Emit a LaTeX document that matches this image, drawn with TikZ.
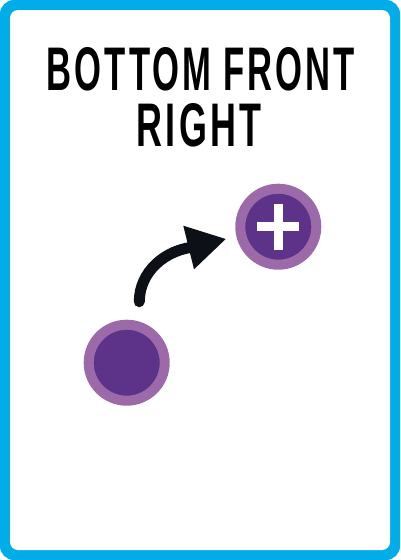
\documentclass[tikz,border=0pt]{standalone}
\usepackage{fontspec}
\usetikzlibrary{calc}
\newfontfamily\titlefont{Liberation Sans}[FakeStretch=0.7, LetterSpace=6]
\usepackage{graphicx}
\definecolor{cardblue}{HTML}{00ADE8}
\definecolor{ringpurple}{HTML}{9D6AA9}
\definecolor{corepurple}{HTML}{5C3389}
\definecolor{arrowblack}{HTML}{0D1117}
\begin{document}
\begin{tikzpicture}[x=1pt,y=-1pt,
  token/.style={circle, fill=corepurple, draw=ringpurple, line width=10pt, minimum size=76pt, inner sep=0pt},
  titletext/.style={anchor=base, inner sep=0pt, text=black}]
\useasboundingbox (0,0) rectangle (400,560);
% card
\fill[cardblue, rounded corners=14pt] (0,0) rectangle (400,560);
\fill[white, rounded corners=8pt] (10,10) rectangle (390,550);
% title
\node[titletext] (t1) at (201,90) {\resizebox{308pt}{43pt}{\titlefont\bfseries BOTTOM FRONT}};
\node[titletext] (t2) at (199,146) {\resizebox{124pt}{43pt}{\titlefont\bfseries RIGHT}};
% tokens
\node[token] (start) at (126.7,362.7) {};
\node[token] (target) at (278.3,226.7) {};
\fill[white] ($(target)+(-21,-4.5)$) rectangle ($(target)+(21,4.5)$);
\fill[white] ($(target)+(-4.5,-23)$) rectangle ($(target)+(4.5,23)$);
% arrow
\coordinate (a0) at (139.3,301.7);
\coordinate (a1) at (196.7,246.7);
\draw[arrowblack, line width=11pt, line cap=round] (a0) .. controls (139.3,272) and (165,249) .. (a1);
\fill[arrowblack] (225.7,239) -- (183.3,225.7) -- (194,269.3) -- cycle;
\end{tikzpicture}
\end{document}
